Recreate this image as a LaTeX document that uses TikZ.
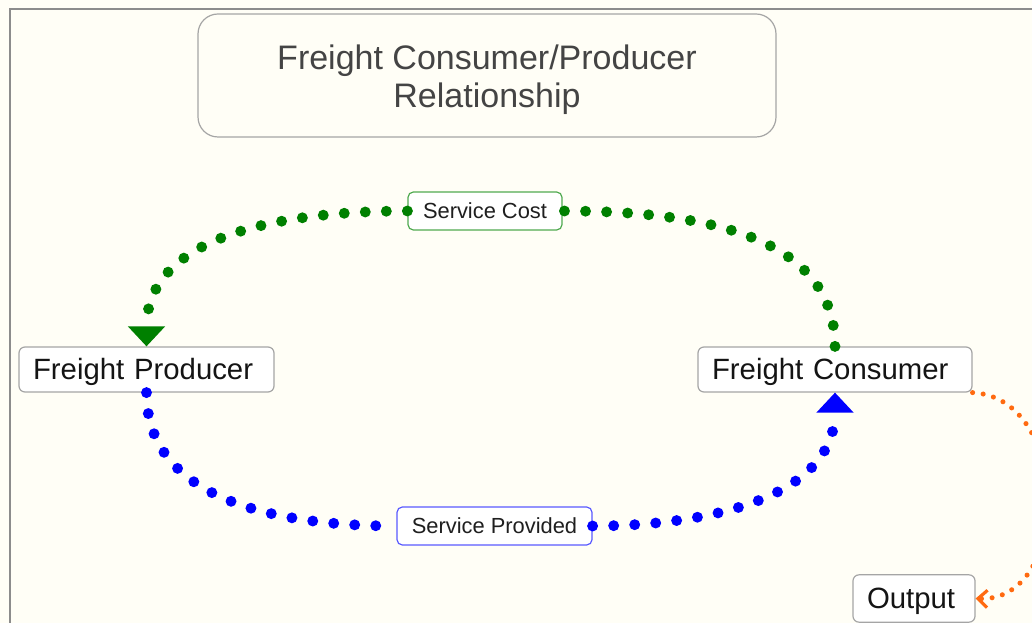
\documentclass[tikz,border=0pt]{standalone}
\usepackage{fontspec}
\setmainfont{Liberation Sans}
\usetikzlibrary{arrows.meta}
\definecolor{bgc}{RGB}{255,254,246}
\definecolor{framec}{RGB}{140,140,140}
\definecolor{boxline}{RGB}{165,165,165}
\definecolor{gdot}{RGB}{0,128,0}
\definecolor{bdot}{RGB}{0,0,255}
\definecolor{odot}{RGB}{255,106,16}
\definecolor{glab}{RGB}{80,170,80}
\definecolor{blab}{RGB}{90,90,255}
\definecolor{titletext}{RGB}{68,68,68}
\begin{document}
\begin{tikzpicture}[x=0.75pt,y=-0.75pt,
  entity/.style={draw=boxline, line width=0.9pt, fill=white, rounded corners=4.5pt,
    inner xsep=10.5pt, inner ysep=0pt, minimum height=33.75pt, align=left,
    text height=20pt, text depth=4.6pt,
    font=\fontsize{22}{26}\selectfont, text=black!92},
  titlebox/.style={draw=boxline, line width=0.9pt, rounded corners=15pt,
    minimum width=433.5pt, minimum height=92.25pt, align=center,
    font=\fontsize{25.5}{28.5}\selectfont, text=titletext},
  flowlabel/.style={fill=white, line width=0.9pt, rounded corners=4pt,
    minimum height=28.5pt, inner sep=0pt, font=\fontsize{16.4}{19}\selectfont, text=black!88},
  dotline/.style={line width=8.2pt, line cap=round, dash pattern=on 0pt off 15.8pt},
  smalldots/.style={line width=3.8pt, line cap=round, dash pattern=on 0pt off 8pt}
]
\useasboundingbox (0,0) rectangle (1032,623);
\fill[bgc] (0,0) rectangle (1032,623);
\draw[framec, line width=1.1pt] (10,630) -- (10,9) -- (1040,9);

\node[titlebox] (title) at (487,75.5) {\rule{0pt}{24.6pt}Freight Consumer/Producer\\Relationship};
\node[entity, text width=170.25pt] (prod) at (146.5,369.5) {Freight Producer};
\node[entity, text width=184.5pt] (cons) at (835,369.5) {Freight Consumer};
\node[entity, text width=70.5pt, minimum height=35.5pt] (out) at (914,598.5) {Output};
\node[flowlabel, draw=glab, minimum width=115.5pt] (sc) at (485,211) {Service Cost};
\node[flowlabel, draw=blab, minimum width=146.25pt] (sp) at (494.5,526) {Service Provided};

\draw[gdot, dotline, -{Triangle[width=27pt,length=15pt]}]
  (cons.north) to[out=90,in=0] (sc.east)
  (sc.west) to[out=180,in=90] (prod.north);
\draw[bdot, dotline, -{Triangle[width=27pt,length=15pt]}]
  (prod.south) to[out=-90,in=180] (sp.west)
  (sp.east) to[out=0,in=-90] (cons.south);
\draw[odot, smalldots, -{Straight Barb[length=7pt,width=13pt,line width=2.4pt]}]
  (cons.south east) .. controls (1072,398) and (1072,602) .. (out.east);
\end{tikzpicture}
\end{document}
